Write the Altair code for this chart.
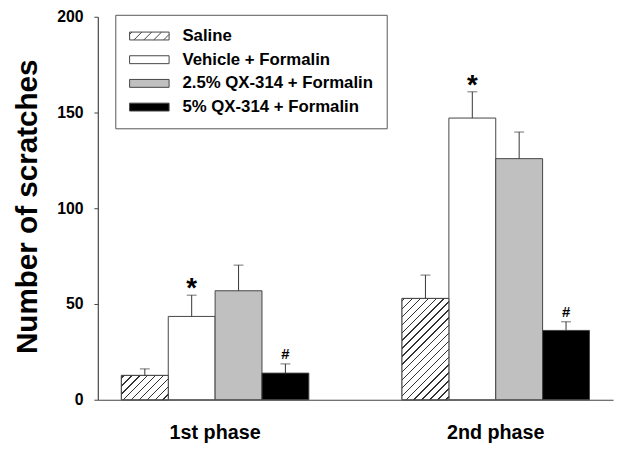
import altair as alt
import pandas as pd

# ---- data ----
phases = ["1st phase", "2nd phase"]
groups = ["Saline", "Vehicle + Formalin", "2.5% QX-314 + Formalin", "5% QX-314 + Formalin"]
means_1st = [12.7, 43.5, 56.9, 13.9]
sems_1st = [3.4, 11.1, 13.4, 4.8]
means_2nd = [52.9, 147.1, 125.9, 36.2]
sems_2nd = [12.2, 13.7, 13.9, 4.5]
markers = ["", "*", "", "#"]
y_ticks = [0, 50, 100, 150, 200]

# ---- styles ----
fills = ["white", "white", "#c0c0c0", "black"]
FONT = "Liberation Sans"
LINE = "#444444"
W, H = 522, 388
PI, PO = 0.332, 0.084
YMAX = 200
Y_TITLE = "Number of scratches"

rows = []
for ph, ms, ss in zip(phases, [means_1st, means_2nd], [sems_1st, sems_2nd]):
    for g, m, s, mk in zip(groups, ms, ss, markers):
        rows.append({"phase": ph, "group": g, "mean": m, "top": m + s, "marker": mk})
df = pd.DataFrame(rows)

step = W / (len(phases) - PI + 2 * PO)
bar_w = step * (1 - PI) / len(groups)


def hatch_gradient(w, h, period=8.0, lw=1.5, color="#333333"):
    k = w * (w + h) / (w * w + h * h)
    L = w + h
    stops = [alt.GradientStop(color="white", offset=0)]
    pos = 2.0
    while pos + lw < L:
        a, b = pos / L, (pos + lw) / L
        stops += [alt.GradientStop(color="white", offset=a),
                  alt.GradientStop(color=color, offset=a),
                  alt.GradientStop(color=color, offset=b),
                  alt.GradientStop(color="white", offset=b)]
        pos += period
    stops.append(alt.GradientStop(color="white", offset=1))
    return alt.LinearGradient(gradient="linear", stops=stops, x1=0, y1=0, x2=k, y2=k * h / w)


# legend symbol paths (unit = 4 px)
LX, RX = -1.75, 8.25
rect_path = f"M{LX},-1H{RX}V1H{LX}Z"
segs = []
x0 = LX - 2 + 0.6
while x0 < RX:
    xa, xb = max(x0, LX), min(x0 + 2, RX)
    if xb > xa:
        segs.append(f"M{xa:.2f},{1 - (xa - x0):.2f}L{xb:.2f},{1 - (xb - x0):.2f}")
    x0 += 2.5
hatch_path = rect_path + "".join(segs)
sym_expr = f"datum.value === 'Saline' ? '{hatch_path}' : '{rect_path}'"

x_enc = alt.X("phase:N", scale=alt.Scale(domain=phases, paddingInner=PI, paddingOuter=PO),
              axis=alt.Axis(title=None, labelAngle=0, ticks=False, labelPadding=23,
                            labelFontSize=20, labelFont=FONT, labelFontWeight="bold",
                            labelColor="black", domainColor=LINE, domainWidth=1.2))
xo_enc = alt.XOffset("group:N", scale=alt.Scale(domain=groups, paddingInner=0, paddingOuter=0))
y_scale = alt.Scale(domain=[0, YMAX])
y_axis = alt.Axis(values=y_ticks, grid=False,
                  tickSize=4, tickColor=LINE, domainColor=LINE, domainWidth=1.2,
                  labelPadding=11, labelFontSize=16, labelFont=FONT,
                  labelFontWeight="bold", labelColor="black",
                  titleFont=FONT, titleFontSize=30, titleFontWeight="bold",
                  titleColor="black", titleAngle=270, titleBaseline="alphabetic",
                  titleAlign="center", titleX=-62, titleY=192)


def yenc(field):
    return alt.Y(field, scale=y_scale, axis=y_axis, title=Y_TITLE)


bars = alt.Chart(df).mark_bar(stroke=LINE, strokeWidth=1).encode(
    x=x_enc, xOffset=xo_enc,
    y=yenc("mean:Q"),
    color=alt.Color("group:N", scale=alt.Scale(domain=groups, range=fills),
                    legend=alt.Legend(title=None, orient="none", legendX=17.7, legendY=-2,
                                      symbolType=alt.ExprRef(expr=sym_expr),
                                      symbolSize=64, symbolStrokeColor=LINE,
                                      symbolStrokeWidth=1,
                                      labelFont=FONT, labelFontSize=17, labelFontWeight="bold",
                                      labelColor="black", labelOffset=38, labelLimit=400,
                                      padding=13, rowPadding=6, strokeColor="#555555",
                                      fillColor="white")),
)

layers = [bars]
for ph, ms in zip(phases, [means_1st, means_2nd]):
    h = ms[0] * H / YMAX
    sub = df[(df.group == groups[0]) & (df.phase == ph)]
    layers.append(alt.Chart(sub).mark_bar(fill=hatch_gradient(bar_w, h), stroke=LINE, strokeWidth=1).encode(
        x=x_enc, xOffset=xo_enc, y=yenc("mean:Q")))

err_rule = alt.Chart(df).mark_rule(color="#333333", strokeWidth=1).encode(
    x=x_enc, xOffset=xo_enc, y=yenc("mean:Q"), y2="top:Q")
err_cap = alt.Chart(df).mark_tick(color="#333333", thickness=1, size=10, orient="horizontal").encode(
    x=x_enc, xOffset=xo_enc, y=yenc("top:Q"))
star = alt.Chart(df).transform_filter("datum.marker == '*'").mark_text(
    font=FONT, fontSize=28, fontWeight="bold", baseline="alphabetic", dy=2, color="black").encode(
    x=x_enc, xOffset=xo_enc, y=yenc("top:Q"), text="marker:N")
hashm = alt.Chart(df).transform_filter("datum.marker == '#'").mark_text(
    font=FONT, fontSize=15, fontWeight="bold", baseline="alphabetic", dy=-5, color="black").encode(
    x=x_enc, xOffset=xo_enc, y=yenc("top:Q"), text="marker:N")

layers += [err_rule, err_cap, star, hashm]

chart = alt.layer(*layers).properties(
    width=W, height=H,
    autosize=alt.AutoSizeParams(type="none"),
    padding={"left": 91, "top": 6, "right": 3, "bottom": 44},
    background="white",
).configure_view(stroke=None)

chart.save("out.html", embed_options={"renderer": "svg", "actions": False})
